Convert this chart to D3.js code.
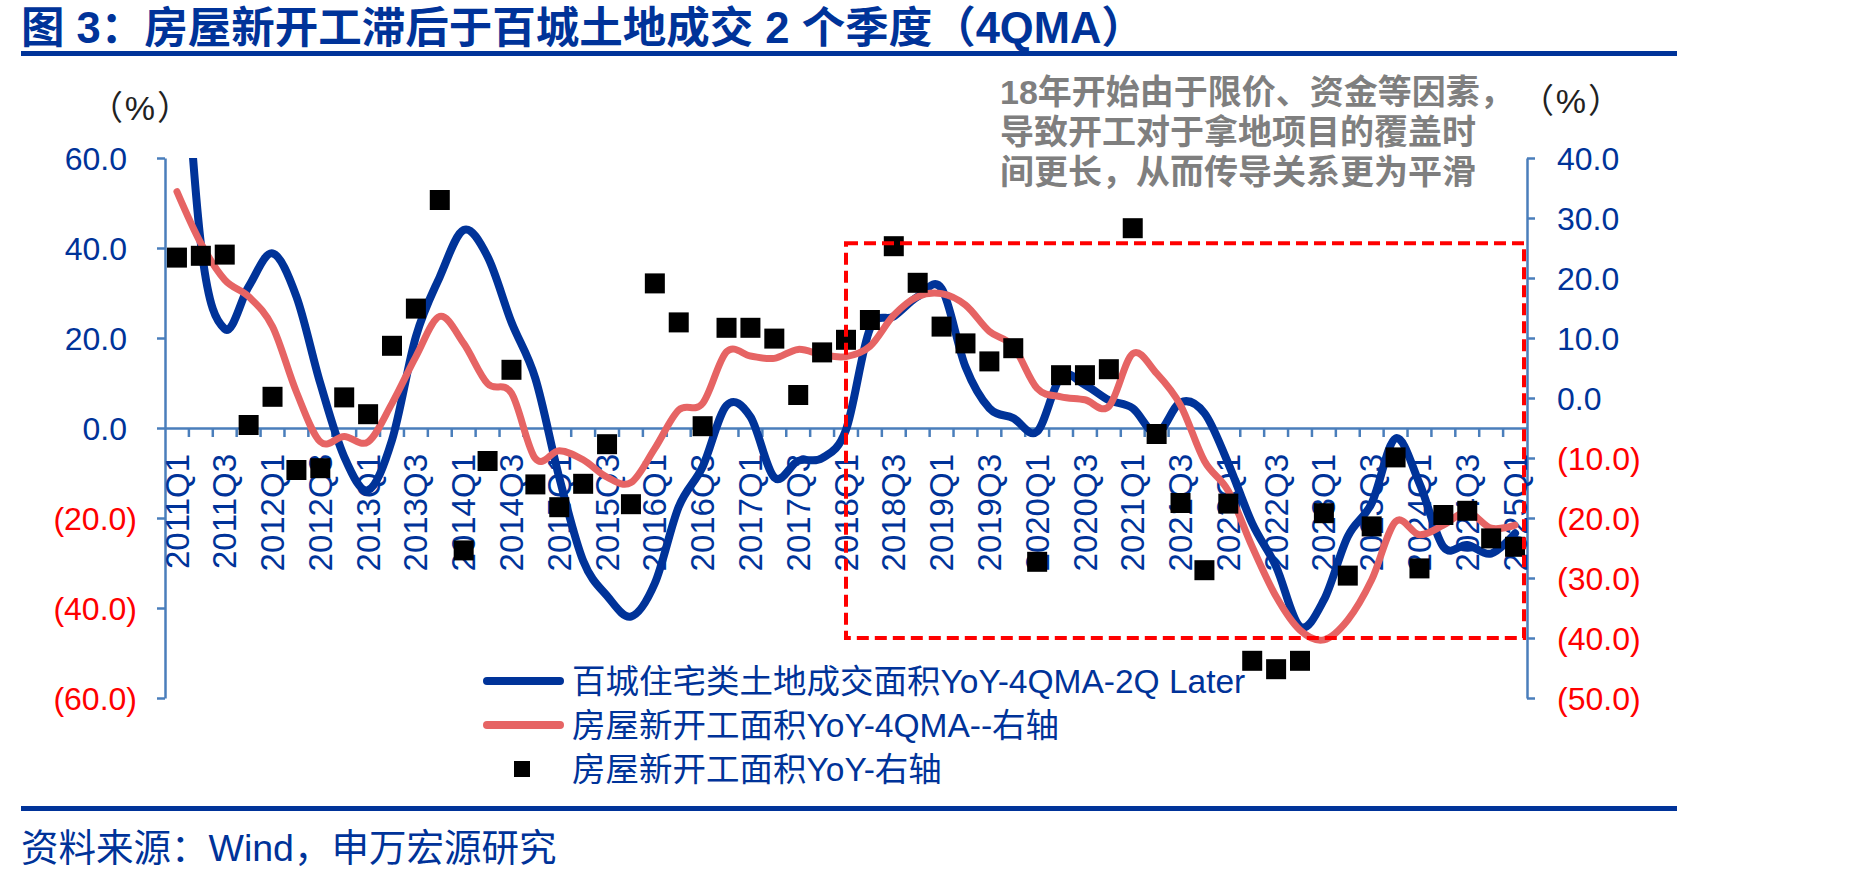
<!DOCTYPE html>
<html><head><meta charset="utf-8">
<script src="https://cdn.jsdelivr.net/npm/d3@7"></script>
<style>
html,body{margin:0;padding:0;background:#fff;}
svg{display:block;}
</style></head><body>
<svg id="chart" width="1849" height="882"></svg>
<script>
const categories = [
"2011Q1","2011Q2","2011Q3","2011Q4","2012Q1","2012Q2","2012Q3","2012Q4",
"2013Q1","2013Q2","2013Q3","2013Q4","2014Q1","2014Q2","2014Q3","2014Q4",
"2015Q1","2015Q2","2015Q3","2015Q4","2016Q1","2016Q2","2016Q3","2016Q4",
"2017Q1","2017Q2","2017Q3","2017Q4","2018Q1","2018Q2","2018Q3","2018Q4",
"2019Q1","2019Q2","2019Q3","2019Q4","2020Q1","2020Q2","2020Q3","2020Q4",
"2021Q1","2021Q2","2021Q3","2021Q4","2022Q1","2022Q2","2022Q3","2022Q4",
"2023Q1","2023Q2","2023Q3","2023Q4","2024Q1","2024Q2","2024Q3","2024Q4",
"2025Q1"];
// 百城住宅类土地成交面积YoY-4QMA-2Q Later (left axis)
const landYoY4QMA = [112, 41.0, 22.0, 31.4, 38.8, 29.2, 9.9, -6.4, -13.8, -2.7,
 20.3, 33.6, 44.0, 38.1, 23.5, 11.0, -11.0, -29.5, -37.3, -41.9,
 -34.5, -17.5, -8.6, 5.0, 2.5, -11.0, -7.3, -6.7, -0.4, 22.0,
 24.8, 29.2, 31.0, 13.6, 4.4, 2.2, -0.8, 11.4, 9.6, 6.2,
 4.4, -1.2, 5.7, 3.3, -7.9, -21.2, -30.8, -44.1, -38.2, -24.1,
 -16.7, -2.3, -12.3, -26.4, -26.0, -27.9, -23.4];
// 房屋新开工面积YoY-4QMA (right axis)
const startsYoY4QMA = [34.4, 25.8, 19.7, 16.9, 11.9, 1.0, -7.3, -6.4, -7.3, -0.9,
 6.9, 13.6, 9.1, 2.4, 0.8, -10.1, -8.8, -10.3, -13.2, -14.1,
 -8.4, -2.0, -0.9, 7.7, 7.0, 6.6, 8.1, 7.2, 6.9, 8.6,
 13.8, 16.9, 17.4, 15.5, 11.1, 8.6, 1.6, 0.2, -0.3, -1.4,
 7.4, 4.1, -1.2, -10.5, -15.5, -24.8, -33.1, -38.7, -40.3, -37.0,
 -30.3, -20.6, -22.8, -21.2, -19.0, -21.7, -21.2];
// 房屋新开工面积YoY (right axis, markers)
const startsYoY = [23.4, 23.7, 23.9, -4.5, 0.2, -12.0, -11.7, 0.1, -2.7, 8.7,
 14.9, 33.0, -25.4, -10.5, 4.7, -14.4, -18.2, -14.3, -7.7, -17.7,
 19.1, 12.6, -4.7, 11.7, 11.7, 9.9, 0.5, 7.6, 9.7, 13.0,
 25.3, 19.2, 11.9, 9.1, 6.1, 8.3, -27.3, 3.8, 3.8, 4.8,
 28.3, -6.0, -17.5, -28.7, -17.6, -43.8, -45.2, -43.8, -19.2, -29.6,
 -21.4, -9.9, -28.4, -19.5, -18.8, -23.4, -24.8];
const leftTicks = [60, 40, 20, 0, -20, -40, -60];
const rightTicks = [40, 30, 20, 10, 0, -10, -20, -30, -40, -50];
const leftDomain = [-60, 60];
const rightDomain = [-50, 40];
const titleText = "图 3：房屋新开工滞后于百城土地成交 2 个季度（4QMA）";
const noteLines = ["18年开始由于限价、资金等因素，", "导致开工对于拿地项目的覆盖时", "间更长，从而传导关系更为平滑"];
const legendLabels = ["百城住宅类土地成交面积YoY-4QMA-2Q Later", "房屋新开工面积YoY-4QMA--右轴", "房屋新开工面积YoY-右轴"];
const unitText = "（%）";
const sourceText = "资料来源：Wind，申万宏源研究";
const boxStart = "2018Q1", boxTop = 25.8, boxBottom = -40;

const plot = {left: 165, right: 1527, top: 158, bottom: 698};
const NAVY = "#003399", AXIS = "#4A7EBB", NEG = "#FF0000", SALMON = "#E66464", GREY = "#7F7F7F";
const FONT = "'Liberation Sans', Arial, 'Noto Sans CJK SC', sans-serif";

const svg = d3.select("#chart").style("font-family", FONT);
const x = d3.scaleBand().domain(categories).range([plot.left, plot.right]).padding(0);
const bw = x.bandwidth();
const cx = d => x(d) + bw / 2;
const yL = d3.scaleLinear().domain(leftDomain).range([plot.bottom, plot.top]);
const yR = d3.scaleLinear().domain(rightDomain).range([plot.bottom, plot.top]);
const fmt = v => v < 0 ? `(${Math.abs(v).toFixed(1)})` : v.toFixed(1);

// title and rules
svg.append("text").attr("x", 21).attr("y", 28).attr("dominant-baseline", "central")
  .attr("fill", NAVY).style("font-size", "43.5px").style("font-weight", "bold").text(titleText);
svg.append("rect").attr("x", 21).attr("y", 51).attr("width", 1656).attr("height", 5).attr("fill", NAVY);
svg.append("rect").attr("x", 21).attr("y", 806).attr("width", 1656).attr("height", 5).attr("fill", NAVY);
svg.append("text").attr("x", 21).attr("y", 848).attr("dominant-baseline", "central")
  .attr("fill", NAVY).style("font-size", "37.5px").text(sourceText);

// unit labels
svg.append("text").attr("x", 141).attr("y", 108).attr("text-anchor", "middle").attr("dominant-baseline", "central")
  .attr("fill", "#222").style("font-size", "34px").style("letter-spacing", "2px").text(unitText);
svg.append("text").attr("x", 1572).attr("y", 101).attr("text-anchor", "middle").attr("dominant-baseline", "central")
  .attr("fill", "#222").style("font-size", "34px").style("letter-spacing", "2px").text(unitText);

// annotation
svg.append("g").selectAll("text").data(noteLines).join("text")
  .attr("x", 1000).attr("y", (d, i) => 92 + i * 40).attr("dominant-baseline", "central")
  .attr("fill", GREY).style("font-size", "34px").style("font-weight", "bold").text(d => d);

// left axis
const gL = svg.append("g").attr("transform", `translate(${plot.left},0)`)
  .call(d3.axisLeft(yL).tickValues(leftTicks).tickSize(8).tickSizeOuter(0).tickFormat(fmt));
gL.select(".domain").attr("stroke", AXIS).attr("stroke-width", 2.5);
gL.selectAll(".tick line").attr("stroke", AXIS).attr("stroke-width", 2.5);
gL.selectAll(".tick text").attr("x", d => d < 0 ? -28 : -38).attr("dy", "0.35em")
  .attr("fill", d => d < 0 ? NEG : NAVY).style("font-size", "32px").style("font-family", FONT);

// right axis
const gR = svg.append("g").attr("transform", `translate(${plot.right},0)`)
  .call(d3.axisRight(yR).tickValues(rightTicks).tickSize(8).tickSizeOuter(0).tickFormat(fmt));
gR.select(".domain").attr("stroke", AXIS).attr("stroke-width", 2.5);
gR.selectAll(".tick line").attr("stroke", AXIS).attr("stroke-width", 2.5);
gR.selectAll(".tick text").attr("x", 30).attr("dy", "0.35em")
  .attr("fill", d => d < 0 ? NEG : NAVY).style("font-size", "32px").style("font-family", FONT);

// category axis at left-axis zero
const gX = svg.append("g").attr("transform", `translate(0,${yL(0)})`)
  .call(d3.axisBottom(x).tickValues(categories.filter((d, i) => i % 2 === 0)).tickSize(0).tickSizeOuter(0));
gX.select(".domain").attr("stroke", AXIS).attr("stroke-width", 2.5);
gX.selectAll(".tick text").attr("transform", "rotate(-90)").attr("text-anchor", "end")
  .attr("x", -26).attr("y", 0).attr("dy", "0.35em")
  .attr("fill", NAVY).style("font-size", "33px").style("font-family", FONT);
gX.append("g").selectAll("line").data(categories.slice(1)).join("line")
  .attr("x1", d => x(d)).attr("x2", d => x(d)).attr("y1", 0).attr("y2", 9)
  .attr("stroke", AXIS).attr("stroke-width", 2.5);

// clip
svg.append("clipPath").attr("id", "plotclip").append("rect")
  .attr("x", plot.left).attr("y", plot.top).attr("width", plot.right - plot.left).attr("height", plot.bottom - plot.top);

const curve = d3.curveCardinal.tension(0);
const lineL = d3.line().x((d, i) => cx(categories[i])).y(d => yL(d)).curve(curve);
const lineR = d3.line().x((d, i) => cx(categories[i])).y(d => yR(d)).curve(curve);

svg.append("path").attr("clip-path", "url(#plotclip)").attr("d", lineL(landYoY4QMA))
  .attr("fill", "none").attr("stroke", NAVY).attr("stroke-width", 8).attr("stroke-linejoin", "round").attr("stroke-linecap", "round");
svg.append("path").attr("d", lineR(startsYoY4QMA))
  .attr("fill", "none").attr("stroke", SALMON).attr("stroke-width", 7).attr("stroke-linejoin", "round").attr("stroke-linecap", "round");

const sq = 20;
svg.append("g").selectAll("rect").data(startsYoY).join("rect")
  .attr("x", (d, i) => cx(categories[i]) - sq / 2).attr("y", d => yR(d) - sq / 2)
  .attr("width", sq).attr("height", sq).attr("fill", "#000");

// dashed box
const bx0 = cx(boxStart), bx1 = plot.right - 3;
svg.append("rect").attr("x", bx0).attr("y", yR(boxTop)).attr("width", bx1 - bx0).attr("height", yR(boxBottom) - yR(boxTop))
  .attr("fill", "none").attr("stroke", "#FF0000").attr("stroke-width", 4).attr("stroke-dasharray", "12,6");

// legend
const lg = svg.append("g");
const ly = [681, 725, 769];
lg.append("line").attr("x1", 487).attr("x2", 560).attr("y1", ly[0]).attr("y2", ly[0])
  .attr("stroke", NAVY).attr("stroke-width", 8).attr("stroke-linecap", "round");
lg.append("line").attr("x1", 487).attr("x2", 560).attr("y1", ly[1]).attr("y2", ly[1])
  .attr("stroke", SALMON).attr("stroke-width", 8).attr("stroke-linecap", "round");
lg.append("rect").attr("x", 522 - 8).attr("y", ly[2] - 8).attr("width", 16).attr("height", 16).attr("fill", "#000");
lg.selectAll("text").data(legendLabels).join("text")
  .attr("x", 572).attr("y", (d, i) => ly[i]).attr("dominant-baseline", "central")
  .attr("fill", NAVY).style("font-size", "33.5px").text(d => d);
</script>
</body></html>
